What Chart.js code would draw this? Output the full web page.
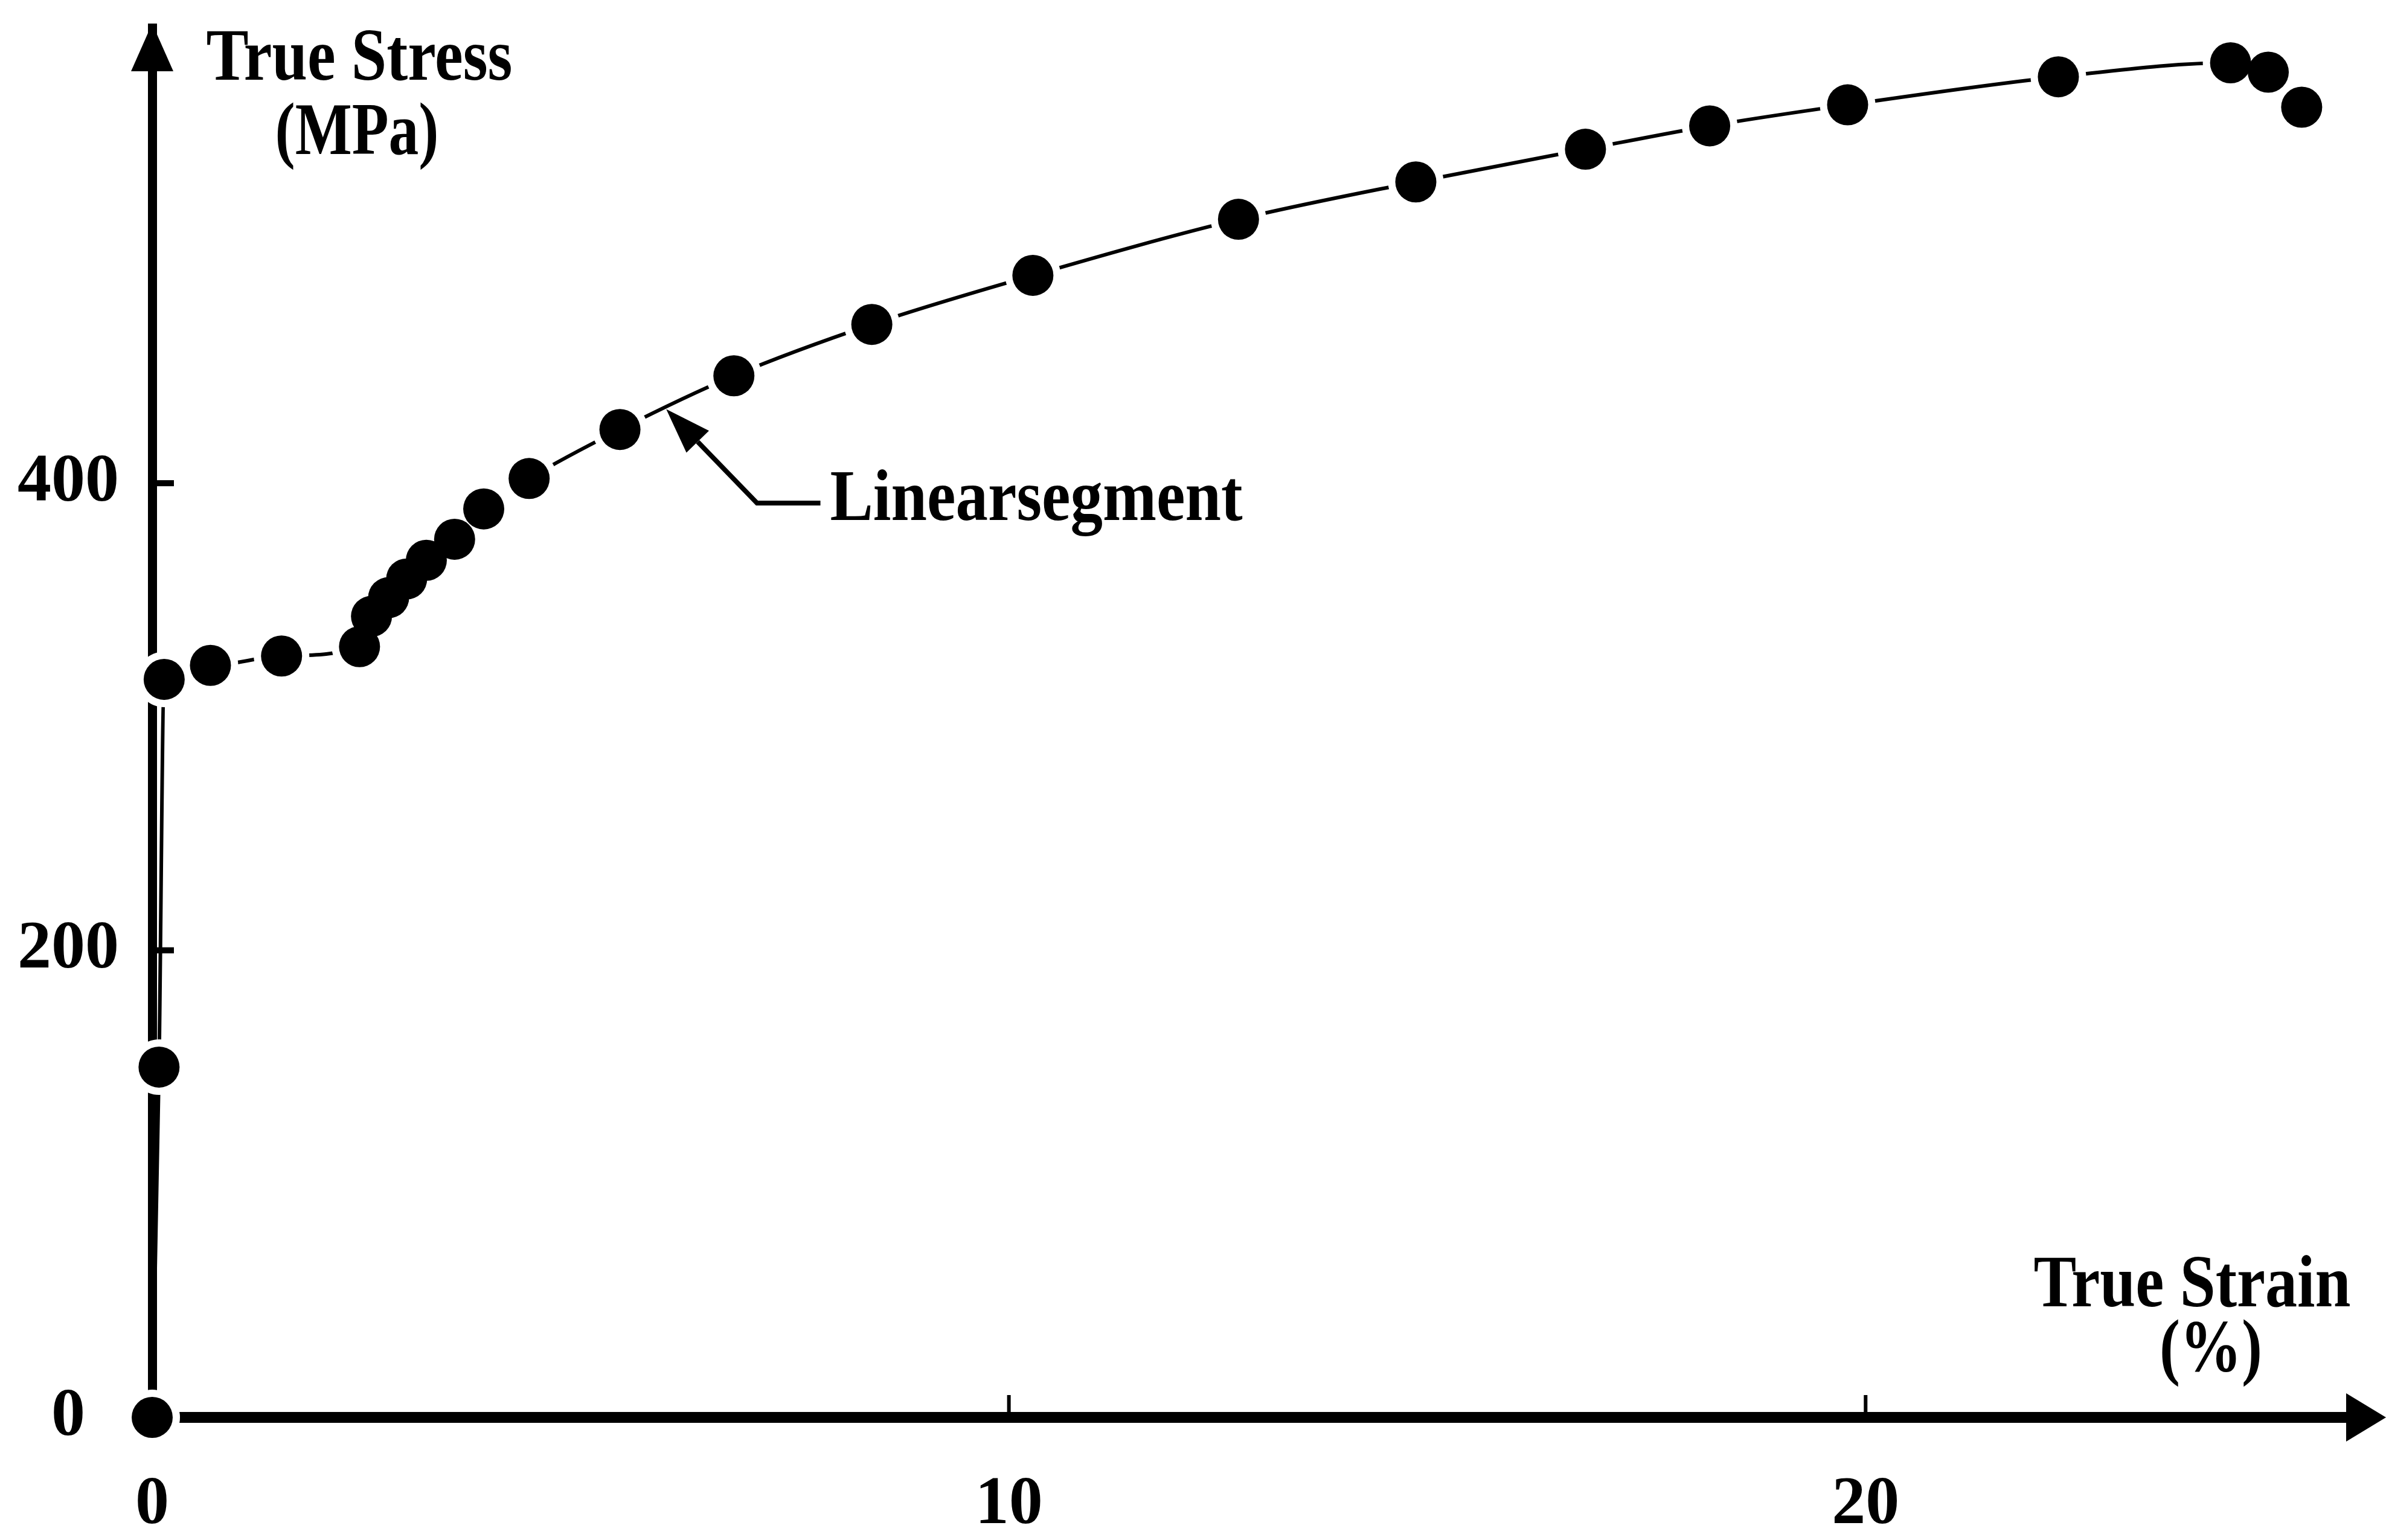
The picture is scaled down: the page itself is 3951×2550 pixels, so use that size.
<!DOCTYPE html>
<html>
<head>
<meta charset="utf-8">
<script src="https://cdn.jsdelivr.net/npm/chart.js@4.4.0/dist/chart.umd.min.js"></script>
<style>
  html, body { margin: 0; padding: 0; background: #fff; }
</style>
</head>
<body>
<canvas id="stress" width="3951" height="2550"></canvas>
<script>
// true strain (%) and true stress (MPa)
const strain = [0, 0.08, 0.14, 0.68, 1.51, 2.42, 2.56, 2.76, 2.97, 3.20, 3.53, 3.87, 4.40, 5.46,
  6.79, 8.40, 10.28, 12.68, 14.75, 16.73, 18.18, 19.79, 22.25, 24.26, 24.70, 25.09];
const stress = [0, 150, 316, 322, 326, 330, 343, 351, 359, 367, 376, 389, 402, 423,
  446, 468, 489, 513, 529, 543, 553, 562, 574, 580, 576, 561];
const xTicks = [0, 10, 20];
const yTicks = [0, 200, 400];

const points = strain.map((x, i) => ({ x: x, y: stress[i] }));
const serif = '"Liberation Serif", "Times New Roman", serif';

function fitText(ctx, text, x, y, width, size, align) {
  ctx.font = 'bold ' + size + 'px ' + serif;
  const w = ctx.measureText(text).width;
  ctx.save();
  ctx.translate(x, y);
  ctx.scale(width / w, 1);
  ctx.textAlign = align || 'center';
  ctx.textBaseline = 'alphabetic';
  ctx.fillText(text, 0, 0);
  ctx.restore();
}

const decor = {
  id: 'decor',
  afterDraw(chart) {
    const ctx = chart.ctx;
    const xs = chart.scales.x, ys = chart.scales.y;
    const area = chart.chartArea;
    const x0 = xs.getPixelForValue(0), y0 = ys.getPixelForValue(0);
    ctx.save();
    ctx.fillStyle = '#000';
    ctx.strokeStyle = '#000';

    // arrow heads on the axes
    ctx.beginPath();
    ctx.moveTo(x0, area.top - 7);
    ctx.lineTo(x0 - 35, area.top + 72);
    ctx.lineTo(x0 + 35, area.top + 72);
    ctx.closePath();
    ctx.fill();
    ctx.beginPath();
    ctx.moveTo(chart.width, y0);
    ctx.lineTo(chart.width - 66, y0 - 40);
    ctx.lineTo(chart.width - 66, y0 + 40);
    ctx.closePath();
    ctx.fill();

    // inner tick marks
    yTicks.filter(v => v > 0).forEach(v => {
      const py = ys.getPixelForValue(v);
      ctx.fillRect(x0, py - 5, 36, 10);
    });
    xTicks.filter(v => v > 0).forEach(v => {
      const px = xs.getPixelForValue(v);
      ctx.fillRect(px - 3, y0 - 37, 6, 37);
    });

    // axis titles
    fitText(ctx, 'True Stress', 595, 132, 507, 122);
    fitText(ctx, '(MPa)', 591, 255, 271, 122);
    fitText(ctx, 'True Strain', 3630, 2163, 525, 122);
    fitText(ctx, '(%)', 3661, 2270, 170, 122);

    // "Linear segment" callout
    const tx = xs.getPixelForValue(6.0), ty = ys.getPixelForValue(431.7);
    const ex = xs.getPixelForValue(7.06), ey = ys.getPixelForValue(391.5);
    const hx = xs.getPixelForValue(7.80);
    const dx = ex - tx, dy = ey - ty, len = Math.hypot(dx, dy);
    const ux = dx / len, uy = dy / len;
    const bx = tx + ux * 75, by = ty + uy * 75;
    ctx.beginPath();
    ctx.moveTo(tx, ty);
    ctx.lineTo(bx - uy * 26, by + ux * 26);
    ctx.lineTo(bx + uy * 26, by - ux * 26);
    ctx.closePath();
    ctx.fill();
    ctx.lineWidth = 8;
    ctx.beginPath();
    ctx.moveTo(bx, by);
    ctx.lineTo(ex, ey);
    ctx.lineTo(hx, ey);
    ctx.stroke();
    fitText(ctx, 'Linearsegment', hx + 16, ey + 28, 683, 120, 'left');

    ctx.restore();
  }
};

const tickFont = { family: serif, weight: 'bold', size: 112 };

new Chart(document.getElementById('stress'), {
  type: 'line',
  data: {
    datasets: [
      {
        label: 'markers',
        data: points,
        showLine: false,
        pointRadius: 34,
        pointBackgroundColor: '#000',
        pointBorderWidth: 0,
        clip: false,
        order: 0
      },
      {
        label: 'halo',
        data: points,
        showLine: false,
        pointRadius: 46,
        pointBackgroundColor: '#fff',
        pointBorderWidth: 0,
        clip: false,
        order: 1
      },
      {
        label: 'curve',
        data: points,
        borderColor: '#000',
        borderWidth: 6,
        pointRadius: 0,
        cubicInterpolationMode: 'monotone',
        clip: false,
        order: 2
      }
    ]
  },
  options: {
    responsive: false,
    animation: false,
    devicePixelRatio: 1,
    layout: { padding: { top: 40, right: 13.5, left: 0, bottom: 0 } },
    plugins: { legend: { display: false }, tooltip: { enabled: false } },
    scales: {
      x: {
        type: 'linear',
        min: 0,
        max: 25.75,
        z: 1,
        afterBuildTicks: s => { s.ticks = xTicks.map(v => ({ value: v })); },
        afterFit: s => { s.height = 203; s.paddingLeft = 0; s.paddingRight = 0; },
        grid: { display: false, drawTicks: false },
        border: { display: true, color: '#000', width: 18 },
        ticks: { color: '#000', font: tickFont, padding: 79, maxRotation: 0, autoSkip: false }
      },
      y: {
        min: 0,
        max: 595,
        z: 1,
        afterBuildTicks: s => { s.ticks = yTicks.map(v => ({ value: v })); },
        afterFit: s => { s.width = 252; s.paddingTop = 0; s.paddingBottom = 0; },
        grid: { display: false, drawTicks: false },
        border: { display: true, color: '#000', width: 15 },
        ticks: { color: '#000', font: tickFont, padding: 55, crossAlign: 'center', autoSkip: false }
      }
    }
  },
  plugins: [decor]
});
</script>
</body>
</html>
